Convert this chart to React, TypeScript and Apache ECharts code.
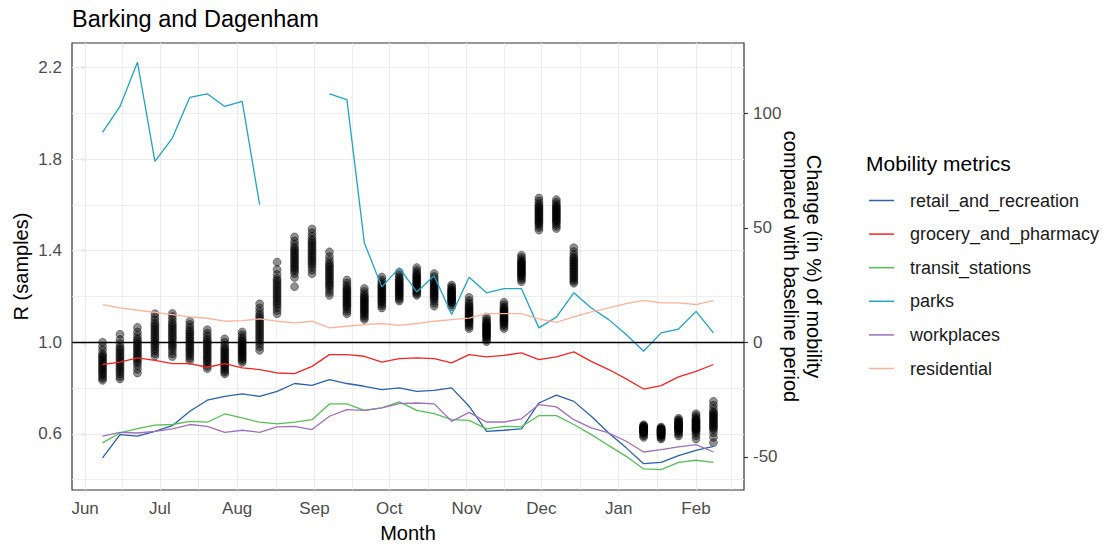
import React, { useEffect, useRef } from "react";
import * as echarts from "echarts";

// ---------- data ----------
const R_WEEKS = [
  "2020-06-08", "2020-06-15", "2020-06-22", "2020-06-29", "2020-07-06", "2020-07-13",
  "2020-07-20", "2020-07-27", "2020-08-03", "2020-08-10", "2020-08-17", "2020-08-24",
  "2020-08-31", "2020-09-07", "2020-09-14", "2020-09-21", "2020-09-28", "2020-10-05",
  "2020-10-12", "2020-10-19", "2020-10-26", "2020-11-02", "2020-11-09", "2020-11-16",
  "2020-11-23", "2020-11-30", "2020-12-07", "2020-12-14", "2021-01-11", "2021-01-18",
  "2021-01-25", "2021-02-01", "2021-02-08",
];

const R_SAMPLES: number[][] = [
  [1.000, 0.982, 0.966, 0.950, 0.943, 0.936, 0.929, 0.922, 0.915, 0.908, 0.901, 0.894, 0.887, 0.880, 0.873, 0.866, 0.859, 0.850, 0.842, 0.834],
  [1.035, 1.012, 0.995, 0.980, 0.972, 0.963, 0.955, 0.947, 0.938, 0.930, 0.921, 0.913, 0.904, 0.896, 0.887, 0.879, 0.870, 0.861, 0.850, 0.840],
  [1.065, 1.045, 1.030, 1.016, 1.008, 0.999, 0.991, 0.983, 0.975, 0.967, 0.959, 0.951, 0.943, 0.935, 0.927, 0.918, 0.910, 0.898, 0.882, 0.866],
  [1.125, 1.110, 1.097, 1.084, 1.075, 1.067, 1.058, 1.050, 1.041, 1.033, 1.024, 1.016, 1.007, 0.998, 0.990, 0.981, 0.972, 0.962, 0.951, 0.940],
  [1.126, 1.112, 1.099, 1.086, 1.077, 1.069, 1.060, 1.052, 1.043, 1.035, 1.026, 1.018, 1.009, 1.000, 0.992, 0.983, 0.974, 0.963, 0.950, 0.938],
  [1.092, 1.078, 1.066, 1.054, 1.046, 1.038, 1.030, 1.022, 1.014, 1.006, 0.998, 0.990, 0.982, 0.974, 0.966, 0.958, 0.950, 0.941, 0.931, 0.921],
  [1.055, 1.040, 1.028, 1.016, 1.008, 1.000, 0.993, 0.985, 0.977, 0.969, 0.962, 0.954, 0.946, 0.938, 0.931, 0.923, 0.915, 0.905, 0.895, 0.885],
  [1.015, 1.000, 0.988, 0.977, 0.970, 0.963, 0.956, 0.949, 0.942, 0.935, 0.928, 0.921, 0.914, 0.907, 0.900, 0.893, 0.886, 0.878, 0.870, 0.862],
  [1.045, 1.033, 1.022, 1.012, 1.006, 1.000, 0.994, 0.988, 0.982, 0.976, 0.970, 0.964, 0.958, 0.952, 0.946, 0.940, 0.934, 0.927, 0.920, 0.912],
  [1.168, 1.150, 1.135, 1.121, 1.112, 1.103, 1.094, 1.085, 1.076, 1.067, 1.058, 1.049, 1.040, 1.031, 1.022, 1.013, 1.004, 0.993, 0.980, 0.965],
  [1.350, 1.318, 1.296, 1.279, 1.270, 1.261, 1.252, 1.243, 1.234, 1.225, 1.216, 1.207, 1.198, 1.189, 1.180, 1.171, 1.162, 1.151, 1.139, 1.125],
  [1.460, 1.442, 1.428, 1.415, 1.407, 1.399, 1.391, 1.383, 1.375, 1.367, 1.359, 1.351, 1.343, 1.335, 1.327, 1.319, 1.311, 1.300, 1.283, 1.243],
  [1.495, 1.478, 1.463, 1.450, 1.441, 1.433, 1.424, 1.416, 1.407, 1.399, 1.390, 1.382, 1.373, 1.365, 1.356, 1.348, 1.339, 1.328, 1.315, 1.300],
  [1.395, 1.374, 1.358, 1.345, 1.337, 1.329, 1.321, 1.313, 1.305, 1.297, 1.289, 1.281, 1.273, 1.265, 1.257, 1.249, 1.241, 1.230, 1.218, 1.205],
  [1.272, 1.259, 1.248, 1.238, 1.232, 1.225, 1.219, 1.212, 1.206, 1.199, 1.193, 1.186, 1.180, 1.173, 1.167, 1.160, 1.154, 1.145, 1.135, 1.125],
  [1.235, 1.222, 1.211, 1.202, 1.196, 1.190, 1.184, 1.178, 1.172, 1.166, 1.160, 1.154, 1.148, 1.142, 1.136, 1.130, 1.124, 1.116, 1.108, 1.100],
  [1.285, 1.272, 1.262, 1.253, 1.247, 1.241, 1.235, 1.229, 1.223, 1.217, 1.211, 1.205, 1.199, 1.193, 1.187, 1.181, 1.175, 1.167, 1.159, 1.150],
  [1.306, 1.294, 1.284, 1.275, 1.269, 1.264, 1.258, 1.253, 1.247, 1.242, 1.236, 1.231, 1.225, 1.220, 1.214, 1.209, 1.203, 1.196, 1.188, 1.180],
  [1.326, 1.314, 1.305, 1.296, 1.291, 1.285, 1.280, 1.274, 1.269, 1.263, 1.258, 1.252, 1.247, 1.241, 1.236, 1.230, 1.225, 1.218, 1.212, 1.205],
  [1.300, 1.287, 1.277, 1.268, 1.262, 1.256, 1.250, 1.244, 1.238, 1.232, 1.226, 1.220, 1.214, 1.208, 1.202, 1.196, 1.190, 1.181, 1.170, 1.158],
  [1.250, 1.242, 1.235, 1.229, 1.225, 1.221, 1.217, 1.213, 1.209, 1.205, 1.201, 1.197, 1.193, 1.189, 1.185, 1.181, 1.177, 1.171, 1.164, 1.155],
  [1.196, 1.182, 1.171, 1.162, 1.156, 1.150, 1.144, 1.138, 1.132, 1.126, 1.120, 1.114, 1.108, 1.102, 1.096, 1.090, 1.084, 1.077, 1.069, 1.060],
  [1.110, 1.100, 1.092, 1.085, 1.080, 1.075, 1.071, 1.066, 1.061, 1.057, 1.052, 1.047, 1.043, 1.038, 1.033, 1.029, 1.024, 1.018, 1.011, 1.003],
  [1.175, 1.164, 1.155, 1.148, 1.143, 1.138, 1.133, 1.128, 1.123, 1.118, 1.113, 1.108, 1.103, 1.098, 1.093, 1.088, 1.083, 1.077, 1.069, 1.060],
  [1.380, 1.370, 1.361, 1.354, 1.349, 1.344, 1.339, 1.334, 1.329, 1.324, 1.319, 1.314, 1.309, 1.304, 1.299, 1.294, 1.289, 1.282, 1.274, 1.265],
  [1.630, 1.617, 1.606, 1.597, 1.591, 1.585, 1.579, 1.573, 1.567, 1.561, 1.555, 1.549, 1.543, 1.537, 1.531, 1.525, 1.519, 1.511, 1.501, 1.490],
  [1.623, 1.612, 1.603, 1.595, 1.590, 1.584, 1.579, 1.573, 1.568, 1.562, 1.557, 1.551, 1.546, 1.540, 1.535, 1.529, 1.524, 1.516, 1.507, 1.497],
  [1.413, 1.396, 1.383, 1.372, 1.365, 1.358, 1.351, 1.344, 1.337, 1.330, 1.323, 1.316, 1.309, 1.302, 1.295, 1.288, 1.281, 1.274, 1.266, 1.258],
  [0.640, 0.636, 0.633, 0.630, 0.628, 0.626, 0.624, 0.622, 0.620, 0.618, 0.616, 0.614, 0.612, 0.610, 0.608, 0.606, 0.604, 0.598, 0.592, 0.585],
  [0.630, 0.626, 0.623, 0.620, 0.618, 0.616, 0.614, 0.612, 0.610, 0.608, 0.606, 0.604, 0.602, 0.600, 0.598, 0.596, 0.594, 0.589, 0.584, 0.578],
  [0.668, 0.662, 0.657, 0.652, 0.649, 0.646, 0.643, 0.640, 0.637, 0.634, 0.631, 0.628, 0.625, 0.622, 0.619, 0.616, 0.613, 0.606, 0.599, 0.591],
  [0.688, 0.679, 0.671, 0.664, 0.660, 0.656, 0.652, 0.648, 0.644, 0.640, 0.636, 0.632, 0.628, 0.624, 0.620, 0.616, 0.612, 0.603, 0.592, 0.578],
  [0.742, 0.725, 0.710, 0.697, 0.691, 0.685, 0.679, 0.673, 0.667, 0.661, 0.655, 0.649, 0.643, 0.637, 0.631, 0.625, 0.619, 0.605, 0.585, 0.562],
];

const MOBILITY_WEEKS = [
  "2020-06-08", "2020-06-15", "2020-06-22", "2020-06-29", "2020-07-06", "2020-07-13",
  "2020-07-20", "2020-07-27", "2020-08-03", "2020-08-10", "2020-08-17", "2020-08-24",
  "2020-08-31", "2020-09-07", "2020-09-14", "2020-09-21", "2020-09-28", "2020-10-05",
  "2020-10-12", "2020-10-19", "2020-10-26", "2020-11-02", "2020-11-09", "2020-11-16",
  "2020-11-23", "2020-11-30", "2020-12-07", "2020-12-14", "2020-12-21", "2020-12-28",
  "2021-01-04", "2021-01-11", "2021-01-18", "2021-01-25", "2021-02-01", "2021-02-08",
];

const RETAIL = [-50.5, -40.3, -41, -38.9, -36.4, -30.1, -25.3, -23.6, -22.5, -23.6, -21.4, -18, -18.8, -16.3, -18, -19.2, -20.7, -19.9, -21.4, -21, -19.9, -27.9, -38.9, -38.4, -37.8, -26.5, -23.1, -25.8, -32.3, -39.6, -46.1, -53, -52.4, -49.5, -47.2, -45.4];
const GROCERY = [-9.7, -8.7, -6.8, -7.9, -9.3, -9.3, -10.9, -9.3, -11.2, -11.9, -13.4, -13.7, -10.5, -5.4, -5.4, -6.1, -8.7, -7.1, -6.8, -7.1, -9, -5.4, -6.4, -5.7, -4.6, -7.6, -6.4, -4.2, -8.3, -11.9, -16, -20.4, -18.9, -15.1, -12.7, -9.7];
const TRANSIT = [-43.9, -39.6, -37.7, -36.2, -35.9, -34.5, -34.9, -31.3, -33, -34.9, -35.6, -34.9, -33.8, -26.9, -26.9, -29.7, -28.6, -26, -29.7, -31.1, -33.8, -34.1, -37.8, -36.7, -36.9, -32, -32, -35.9, -40.3, -45.1, -49.8, -55.3, -55.6, -52.4, -51.5, -52.4];
const PARKS = [91.7, 103, 122.3, 79, 89.2, 107, 108.5, 103, 105.2, 60.1, null, null, null, 108.5, 106, 43.4, 24.2, 32.5, 22, 29.1, 12.1, 28.4, 21.6, 23.4, 23.4, 6.3, 11, 21.6, 15, 9.9, 3.4, -3.9, 4.1, 5.8, 13.5, 4.1];
const WORKPLACES = [-41, -39.3, -39.6, -38.9, -37.8, -35.9, -36.7, -39.3, -38.4, -39.3, -36.9, -36.7, -38.1, -32.3, -29.4, -29.7, -28.6, -26.8, -26.5, -26.9, -34.5, -30.6, -34.8, -34.8, -33.4, -27.2, -28.2, -33.8, -37.4, -39.6, -43.2, -47.9, -46.9, -45.7, -44.7, -47.9];
const RESIDENTIAL = [16.5, 15, 14, 13.1, 12.1, 11.1, 10.5, 9.2, 9.5, 10.2, 9.2, 8.5, 9.2, 6.3, 7, 7.7, 8.2, 7.4, 8.2, 9.2, 9.9, 10.6, 12.5, 12.5, 12.5, 10.2, 8.7, 11.1, 13.3, 15, 16.9, 18.3, 17.2, 17.2, 16.5, 18.2];

const METRIC_NAMES = ["retail_and_recreation", "grocery_and_pharmacy", "transit_stations", "parks", "workplaces", "residential"];
const METRIC_VALUES = [RETAIL, GROCERY, TRANSIT, PARKS, WORKPLACES, RESIDENTIAL];
const METRIC_COLORS = ["#2a62a8", "#f42424", "#55c055", "#1ea4c4", "#a070bc", "#fdb29b"];

const MONTH_STARTS = ["2020-06-01", "2020-07-01", "2020-08-01", "2020-09-01", "2020-10-01", "2020-11-01", "2020-12-01", "2021-01-01", "2021-02-01"];
const NEXT_MONTH_START = "2021-03-01";
const MONTH_LABELS = ["Jun", "Jul", "Aug", "Sep", "Oct", "Nov", "Dec", "Jan", "Feb"];
const R_TICKS = [0.6, 1.0, 1.4, 1.8, 2.2];
const R_MINOR = [0.4, 0.8, 1.2, 1.6, 2.0];
const MOBILITY_TICKS = [-50, 0, 50, 100];

// ---------- helpers ----------
const ORIGIN = Date.UTC(2020, 5, 1);
const toDay = (s: string) => (Date.parse(s + "T00:00:00Z") - ORIGIN) / 86400000;

const FONT = "'Liberation Sans', Arial, sans-serif";

export default function App() {
  const ref = useRef<HTMLDivElement>(null);

  useEffect(() => {
    document.body.style.margin = "0";
    if (!ref.current) return;
    const chart = echarts.init(ref.current, undefined, { renderer: "svg" });

    const firstDay = toDay(MOBILITY_WEEKS[0]);
    const lastDay = toDay(MOBILITY_WEEKS[MOBILITY_WEEKS.length - 1]);
    const span = lastDay - firstDay;
    const xMin = firstDay - 0.05 * span;
    const xMax = lastDay + 0.05 * span;

    const monthDays = MONTH_STARTS.map(toDay);
    const allStarts = [...monthDays, toDay(NEXT_MONTH_START)];
    const minorX: number[] = [];
    for (let i = 0; i < allStarts.length - 1; i++) {
      const m = (allStarts[i] + allStarts[i + 1]) / 2;
      if (m > xMin && m < xMax) minorX.push(m);
    }

    const gridColor = "#ebebeb";
    const gridLines = [
      ...minorX.map((x) => ({ xAxis: x, lineStyle: { color: gridColor, width: 0.8, type: "solid" } })),
      ...monthDays.map((x) => ({ xAxis: x, lineStyle: { color: gridColor, width: 1.2, type: "solid" } })),
      ...R_MINOR.map((y) => ({ yAxis: y, lineStyle: { color: gridColor, width: 0.8, type: "solid" } })),
      ...R_TICKS.map((y) => ({ yAxis: y, lineStyle: { color: gridColor, width: 1.2, type: "solid" } })),
    ];

    // one scatter series per sample draw, so that overlapping draws stack their transparency
    const sampleCount = R_SAMPLES[0].length;
    const scatterSeries = Array.from({ length: sampleCount }, (_, k) => ({
      name: "R sample " + (k + 1),
      type: "scatter",
      yAxisIndex: 0,
      symbol: "circle",
      symbolSize: 8,
      z: 2,
      silent: true,
      itemStyle: { color: "rgba(0,0,0,0.55)", borderColor: "rgba(0,0,0,0.45)", borderWidth: 1 },
      data: R_WEEKS.map((d, i) => [toDay(d), R_SAMPLES[i][k]]),
      ...(k === 0
        ? {
            markLine: {
              silent: true,
              symbol: ["none", "none"],
              label: { show: false },
              animation: false,
              z: 1,
              data: gridLines,
            },
          }
        : {}),
    }));

    const lineSeries = METRIC_NAMES.map((name, k) => ({
      name,
      type: "line",
      yAxisIndex: 1,
      showSymbol: false,
      symbol: "none",
      connectNulls: false,
      z: 3,
      lineStyle: { color: METRIC_COLORS[k], width: 1.3 },
      itemStyle: { color: METRIC_COLORS[k] },
      data: MOBILITY_WEEKS.map((d, i) => [toDay(d), METRIC_VALUES[k][i] === null ? "-" : METRIC_VALUES[k][i]]),
      ...(k === 0
        ? {
            markLine: {
              silent: true,
              symbol: ["none", "none"],
              label: { show: false },
              animation: false,
              z: 4,
              data: [{ yAxis: 0, lineStyle: { color: "#000000", width: 1.4, type: "solid" } }],
            },
          }
        : {}),
    }));

    const axisLabelStyle = { color: "#4d4d4d", fontSize: 17, fontFamily: FONT };

    chart.setOption({
      animation: false,
      textStyle: { fontFamily: FONT },
      title: [
        {
          text: "Barking and Dagenham",
          left: 72,
          top: 7,
          padding: 0,
          textStyle: { fontSize: 23.5, fontWeight: "normal", color: "#000000", fontFamily: FONT },
        },
        {
          text: "Mobility metrics",
          left: 866,
          top: 153,
          padding: 0,
          textStyle: { fontSize: 21, fontWeight: "normal", color: "#000000", fontFamily: FONT },
        },
      ],
      legend: {
        orient: "vertical",
        left: 869,
        top: 190.5,
        padding: 0,
        icon: "rect",
        itemWidth: 25,
        itemHeight: 1.5,
        itemGap: 13.6,
        selectedMode: false,
        data: METRIC_NAMES,
        textStyle: { fontSize: 18, color: "#1a1a1a", lineHeight: 20, fontFamily: FONT, padding: [0, 0, 0, 11] },
      },
      grid: {
        left: 72,
        right: 360,
        top: 43,
        bottom: 57,
        show: true,
        borderColor: "#333333",
        borderWidth: 1.2,
        backgroundColor: "#ffffff",
      },
      xAxis: {
        type: "value",
        min: xMin,
        max: xMax,
        name: "Month",
        nameLocation: "middle",
        nameGap: 33,
        nameMoveOverlap: false,
        nameTextStyle: { fontSize: 20, color: "#000000", fontFamily: FONT },
        axisLine: { show: false },
        splitLine: { show: false },
        axisTick: { show: true, length: 4, customValues: monthDays, lineStyle: { color: "#333333", width: 1.2 } },
        axisLabel: {
          ...axisLabelStyle,
          margin: 10,
          customValues: monthDays,
          formatter: (v: number) => {
            const idx = monthDays.findIndex((d) => Math.abs(d - v) < 0.01);
            return idx >= 0 ? MONTH_LABELS[idx] : "";
          },
        },
      },
      yAxis: [
        {
          type: "value",
          position: "left",
          min: 0.355,
          max: 2.307,
          name: "R (samples)",
          nameLocation: "middle",
          nameGap: 41,
          nameMoveOverlap: false,
          nameTextStyle: { fontSize: 20, color: "#000000", fontFamily: FONT },
          axisLine: { show: false },
          splitLine: { show: false },
          axisTick: { show: true, length: 4, customValues: R_TICKS, lineStyle: { color: "#333333", width: 1.2 } },
          axisLabel: { ...axisLabelStyle, margin: 10, customValues: R_TICKS, formatter: (v: number) => v.toFixed(1) },
        },
        {
          type: "value",
          position: "right",
          min: -64.5,
          max: 130.7,
          name: "Change (in %) of mobility\ncompared with baseline period",
          nameLocation: "middle",
          nameRotate: -90,
          nameGap: 35,
          nameMoveOverlap: false,
          nameTextStyle: { fontSize: 20, color: "#000000", lineHeight: 23, fontFamily: FONT },
          axisLine: { show: false },
          splitLine: { show: false },
          axisTick: { show: true, length: 4, customValues: MOBILITY_TICKS, lineStyle: { color: "#333333", width: 1.2 } },
          axisLabel: { ...axisLabelStyle, margin: 9, customValues: MOBILITY_TICKS, formatter: (v: number) => String(v) },
        },
      ],
      series: [...scatterSeries, ...lineSeries],
    });

    return () => chart.dispose();
  }, []);

  return <div ref={ref} style={{ width: 1104, height: 548 }} />;
}
